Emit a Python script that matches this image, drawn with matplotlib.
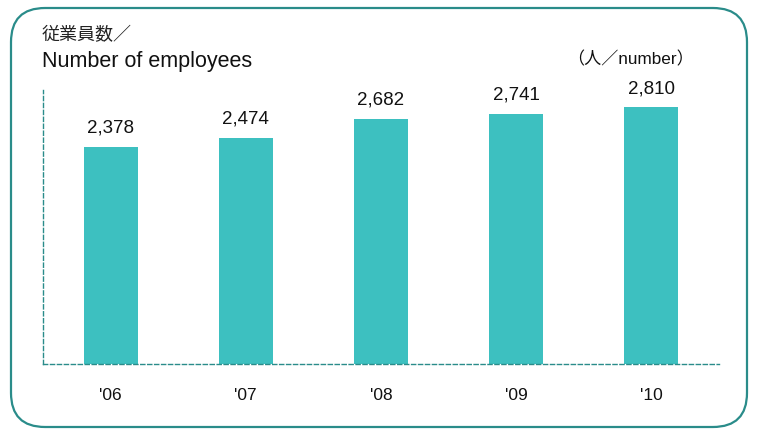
import matplotlib
matplotlib.use("Agg")
import matplotlib.pyplot as plt
from matplotlib.patches import FancyBboxPatch

plt.rcParams['font.family'] = ['Liberation Sans', 'Noto Sans CJK JP', 'DejaVu Sans']

years = ["'06", "'07", "'08", "'09", "'10"]
employees = [2378, 2474, 2682, 2741, 2810]

bar_color = '#3dc0c0'
teal = '#2a8c8a'

fig = plt.figure(figsize=(7.58, 4.29), dpi=100)

# rounded frame
box = FancyBboxPatch((11/758, 1 - 427/429), (747-11)/758, (427-8)/429,
                     boxstyle="round,pad=0,rounding_size=0.045",
                     transform=fig.transFigure, fill=False,
                     edgecolor=teal, linewidth=1.6, mutation_aspect=758/429)
fig.patches.append(box)

ax = fig.add_axes([43/758, 1 - 364/429, (719-43)/758, (364-90)/429])
x = list(range(len(years)))
ax.bar(x, employees, width=0.4, color=bar_color, zorder=2)
ax.set_xlim(-0.5, 4.5)
ax.set_ylim(0, 3000)

for xi, v in zip(x, employees):
    ax.text(xi, v + 110, f"{v:,}", ha='center', va='bottom', fontsize=13.5, color='#111111')

for s in ['top', 'right']:
    ax.spines[s].set_visible(False)
for s in ['left', 'bottom']:
    ax.spines[s].set_linestyle((0, (3, 2)))
    ax.spines[s].set_color(teal)
    ax.spines[s].set_linewidth(1.0)
ax.set_yticks([])
ax.set_xticks(x)
ax.set_xticklabels(years, fontsize=12.5, color='#111111')
ax.tick_params(axis='x', length=0, pad=17)

fig.text(42/758, 1 - 35/429, "従業員数／", fontsize=13, ha='left', va='center', color='#222222')
fig.text(42/758, 1 - 61/429, "Number of employees", fontsize=15.5, ha='left', va='center', color='#111111')
fig.text(694/758, 1 - 59/429, "（人／number）", fontsize=12.3, ha='right', va='center', color='#111111')

fig.savefig('out.png', dpi=100)
